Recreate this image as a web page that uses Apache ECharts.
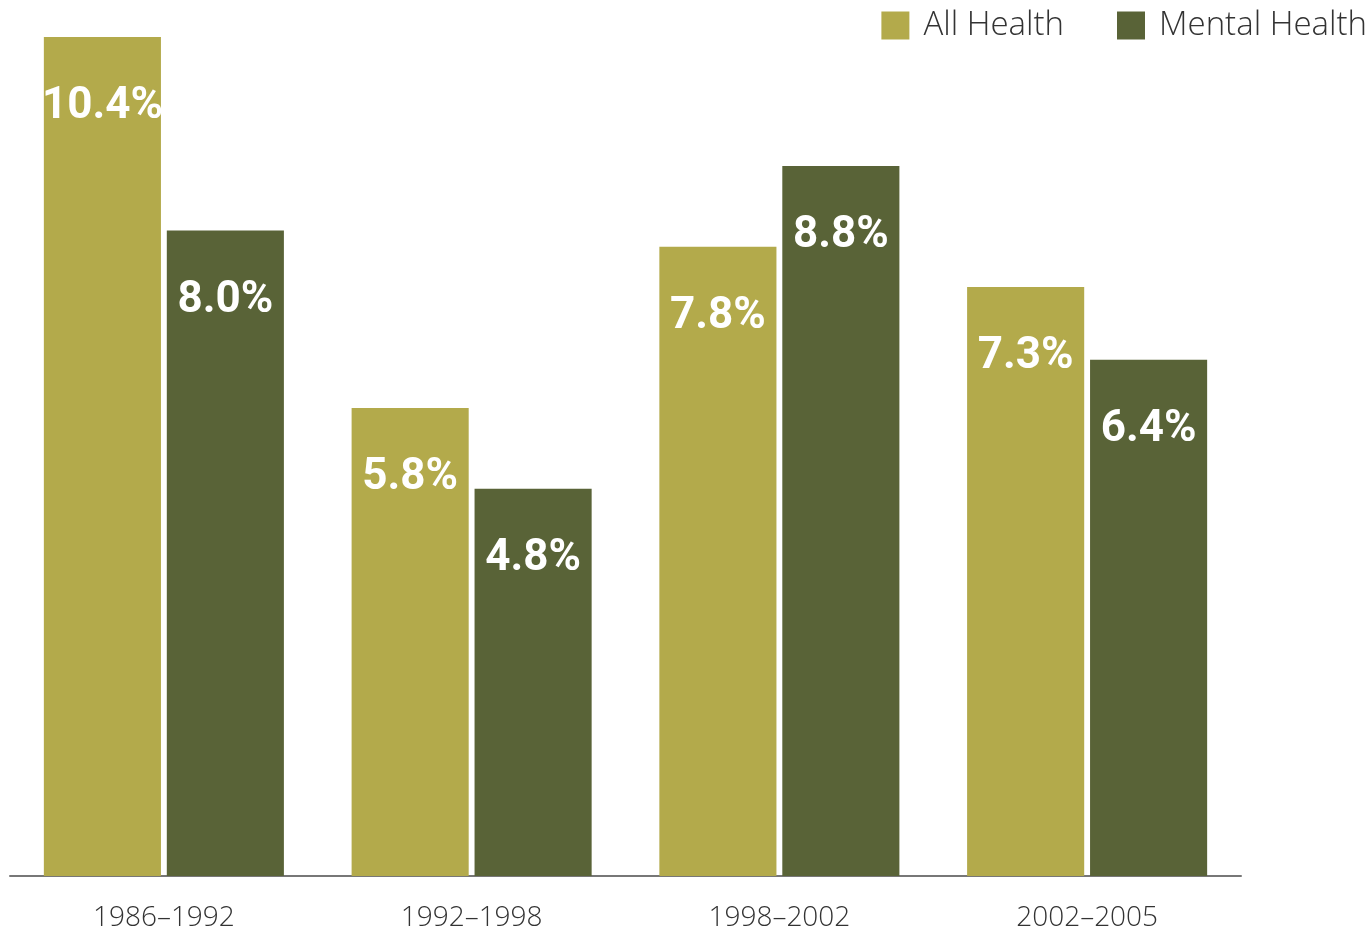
<!DOCTYPE html>
<html>
<head>
<meta charset="utf-8">
<script src="https://cdn.jsdelivr.net/npm/echarts@6/dist/echarts.min.js"></script>
<style>
  html, body { margin: 0; padding: 0; background: #fff; }
  #chart { width: 1372px; height: 930px; }
</style>
</head>
<body>
<div id="chart"></div>
<script>
var periods = ["1986\u20131992", "1992\u20131998", "1998\u20132002", "2002\u20132005"];
var allHealth = [10.4, 5.8, 7.8, 7.3];
var mentalHealth = [8.0, 4.8, 8.8, 6.4];

var chart = echarts.init(document.getElementById("chart"));

var barLabel = {
  show: true,
  position: "insideTop",
  distance: 48,
  color: "#fff",
  fontFamily: "Roboto",
  fontWeight: "bold",
  fontSize: 44,
  formatter: function (p) {
    return p.value.toFixed(1) + "%";
  }
};

chart.setOption({
  animation: false,
  legend: {
    top: 4,
    right: 0,
    itemWidth: 28,
    itemHeight: 28,
    itemGap: 53,
    icon: "rect",
    textStyle: {
      fontFamily: "Open Sans",
      fontWeight: 300,
      fontSize: 33,
      color: "#333",
      padding: [0, 0, 0, 9]
    },
    data: ["All Health", "Mental Health"]
  },
  grid: {
    left: 10,
    right: 131,
    top: 37,
    bottom: 54,
    outerBoundsMode: "none"
  },
  xAxis: {
    type: "category",
    data: periods,
    axisTick: { show: false },
    axisLine: { lineStyle: { color: "#777", width: 2 } },
    axisLabel: {
      margin: 28,
      fontFamily: "Open Sans",
      fontWeight: 300,
      fontSize: 28,
      color: "#333"
    }
  },
  yAxis: {
    type: "value",
    min: 0,
    max: 10.4,
    show: false,
    splitLine: { show: false }
  },
  series: [
    {
      name: "All Health",
      type: "bar",
      data: allHealth,
      barGap: "5%",
      barCategoryGap: "22%",
      itemStyle: { color: "#b3aa4b" },
      label: barLabel
    },
    {
      name: "Mental Health",
      type: "bar",
      data: mentalHealth,
      itemStyle: { color: "#596337" },
      label: barLabel
    }
  ]
});
</script>
</body>
</html>
